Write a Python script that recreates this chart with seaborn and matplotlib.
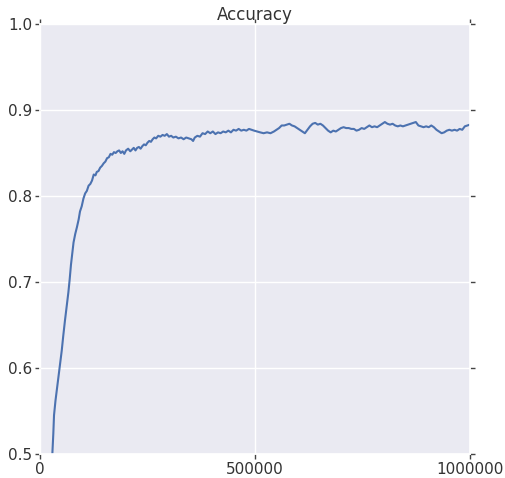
import matplotlib
matplotlib.use("Agg")
import matplotlib.pyplot as plt
import seaborn as sns
import pandas as pd

# training step and accuracy
steps = [
    28700, 31000, 32600, 36000, 40000, 43000, 47000, 50500, 54000, 58000,
    62000, 66000, 69000, 72000, 75000, 78000, 82000, 86000, 90000, 93000,
    97000, 101000, 105000, 109000, 113000, 117000, 121000, 125000, 129000, 132000,
    136000, 140000, 144000, 148000, 152000, 156000, 160000, 164000, 168000, 172000,
    176000, 180000, 184000, 188000, 192000, 196000, 200000, 205000, 210000, 214000,
    218000, 222000, 226000, 230000, 234000, 238000, 242000, 246000, 250000, 254000,
    258000, 262000, 266000, 270000, 275000, 280000, 285000, 290000, 295000, 300000,
    305000, 310000, 316000, 322000, 328000, 334000, 340000, 346000, 352000, 356000,
    360000, 366000, 372000, 378000, 384000, 390000, 396000, 402000, 408000, 414000,
    420000, 426000, 432000, 438000, 444000, 450000, 456000, 462000, 468000, 474000,
    480000, 486000, 492000, 498000, 505000, 512000, 520000, 528000, 536000, 544000,
    550000, 556000, 562000, 568000, 574000, 580000, 586000, 592000, 598000, 604000,
    610000, 616000, 622000, 628000, 634000, 640000, 646000, 652000, 658000, 664000,
    670000, 676000, 682000, 688000, 694000, 700000, 706000, 712000, 718000, 724000,
    730000, 736000, 742000, 748000, 754000, 760000, 766000, 772000, 778000, 784000,
    790000, 796000, 802000, 808000, 814000, 820000, 826000, 832000, 838000, 844000,
    850000, 856000, 862000, 868000, 874000, 880000, 886000, 892000, 898000, 904000,
    910000, 916000, 922000, 928000, 934000, 940000, 946000, 952000, 958000, 964000,
    970000, 976000, 982000, 988000, 994000, 1000000,
]
accuracy = [
    0.500, 0.524, 0.545, 0.562, 0.578, 0.590, 0.605, 0.620, 0.637, 0.655,
    0.671, 0.688, 0.703, 0.720, 0.733, 0.746, 0.756, 0.764, 0.773, 0.782,
    0.788, 0.797, 0.803, 0.806, 0.812, 0.814, 0.818, 0.825, 0.824, 0.828,
    0.829, 0.833, 0.835, 0.838, 0.840, 0.844, 0.845, 0.849, 0.848, 0.851,
    0.850, 0.852, 0.853, 0.850, 0.852, 0.849, 0.853, 0.855, 0.852, 0.854,
    0.856, 0.853, 0.856, 0.857, 0.855, 0.858, 0.860, 0.859, 0.862, 0.864,
    0.863, 0.866, 0.868, 0.867, 0.870, 0.869, 0.871, 0.870, 0.872, 0.869,
    0.870, 0.868, 0.869, 0.867, 0.868, 0.866, 0.868, 0.867, 0.866, 0.864,
    0.868, 0.870, 0.869, 0.873, 0.872, 0.875, 0.873, 0.875, 0.872, 0.874,
    0.873, 0.875, 0.874, 0.876, 0.874, 0.877, 0.876, 0.878, 0.876, 0.877,
    0.876, 0.878, 0.877, 0.876, 0.875, 0.874, 0.873, 0.874, 0.873, 0.875,
    0.877, 0.879, 0.882, 0.882, 0.883, 0.884, 0.882, 0.881, 0.879, 0.877,
    0.875, 0.873, 0.877, 0.881, 0.884, 0.885, 0.883, 0.884, 0.882, 0.879,
    0.876, 0.874, 0.876, 0.875, 0.877, 0.879, 0.880, 0.879, 0.879, 0.878,
    0.878, 0.876, 0.877, 0.879, 0.878, 0.880, 0.882, 0.880, 0.881, 0.880,
    0.882, 0.884, 0.886, 0.884, 0.883, 0.884, 0.882, 0.881, 0.882, 0.881,
    0.882, 0.883, 0.884, 0.885, 0.886, 0.882, 0.881, 0.880, 0.881, 0.880,
    0.882, 0.880, 0.877, 0.875, 0.873, 0.874, 0.876, 0.877, 0.876, 0.877,
    0.876, 0.878, 0.877, 0.881, 0.882, 0.883,
]
x_ticks = [0, 500000, 1000000]
y_ticks = [0.5, 0.6, 0.7, 0.8, 0.9, 1.0]

sns.set_theme(style="darkgrid")
plt.rcParams['font.family'] = ['DejaVu Sans']

df = pd.DataFrame({"step": steps, "accuracy": accuracy})

fig = plt.figure(figsize=(5.06, 4.78), dpi=100)
ax = fig.add_axes([40 / 506, 24 / 478, 430 / 506, 430 / 478])
sns.lineplot(data=df, x="step", y="accuracy", ax=ax, color="#4C72B0", linewidth=1.5)

ax.set_xlim(0, 1000000)
ax.set_ylim(0.5, 1.0)
ax.set_xticks(x_ticks)
ax.set_xticklabels([str(t) for t in x_ticks])
ax.set_yticks(y_ticks)
ax.set_yticklabels([f"{t:.1f}" for t in y_ticks])
ax.set_xlabel("")
ax.set_ylabel("")
ax.tick_params(direction="out", length=3.5, width=1, color="#444444",
               labelcolor="#333333", labelsize=11, pad=2,
               top=True, right=True, bottom=True, left=True)
ax.grid(True, color="white", linewidth=1)
ax.set_title("Accuracy", fontsize=12, color="#333333", pad=3)

fig.savefig("out.png", dpi=100)
